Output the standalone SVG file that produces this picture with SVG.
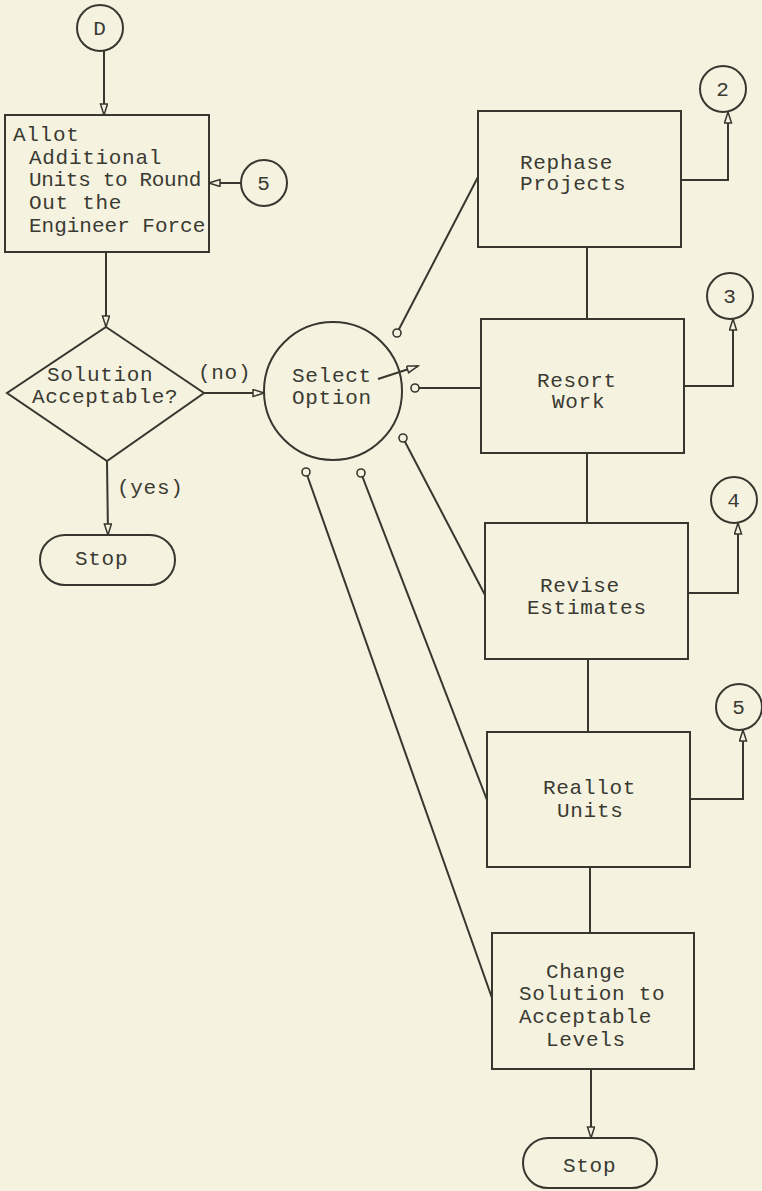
<svg xmlns="http://www.w3.org/2000/svg" width="762" height="1191" viewBox="0 0 762 1191">
<defs>
<style>
.bg{fill:#f5f3df}
.s{fill:none;stroke:#38372f;stroke-width:2}
.n{fill:#f5f3df;stroke:#38372f;stroke-width:2}
.d{fill:#f5f3df;stroke:#38372f;stroke-width:1.6}
.t{font-family:"Liberation Mono","DejaVu Sans Mono",monospace;font-size:21px;letter-spacing:0.7px;fill:#3a3a33}
.c{text-anchor:middle}
</style>
<marker id="ah" markerUnits="userSpaceOnUse" markerWidth="14" markerHeight="10" refX="12" refY="4" orient="auto">
<path d="M1,0.5 L12,4 L1,7.5 Z" fill="#f5f3df" stroke="#38372f" stroke-width="1.5"/>
</marker>
</defs>
<rect class="bg" x="0" y="0" width="762" height="1191"/>

<g id="connectors">
<line class="s" x1="104" y1="51" x2="104" y2="115" marker-end="url(#ah)"/>
<line class="s" x1="241" y1="183" x2="209" y2="183" marker-end="url(#ah)"/>
<line class="s" x1="106" y1="252" x2="106" y2="327" marker-end="url(#ah)"/>
<line class="s" x1="204" y1="393" x2="264" y2="393" marker-end="url(#ah)"/>
<line class="s" x1="107" y1="461" x2="108" y2="535" marker-end="url(#ah)"/>
<line class="s" x1="397" y1="333" x2="478" y2="177"/>
<line class="s" x1="415" y1="388" x2="481" y2="388"/>
<line class="s" x1="403" y1="438" x2="485" y2="595"/>
<line class="s" x1="361" y1="473" x2="487" y2="800"/>
<line class="s" x1="306" y1="472" x2="492" y2="998"/>
<line class="s" x1="587" y1="247" x2="587" y2="319"/>
<line class="s" x1="587" y1="453" x2="587" y2="523"/>
<line class="s" x1="588" y1="659" x2="588" y2="732"/>
<line class="s" x1="590" y1="867" x2="590" y2="933"/>
<line class="s" x1="591" y1="1069" x2="591" y2="1138" marker-end="url(#ah)"/>
<polyline class="s" points="681,180 728,180 728,112" marker-end="url(#ah)"/>
<polyline class="s" points="684,386 733,386 733,319" marker-end="url(#ah)"/>
<polyline class="s" points="688,593 738,593 738,523" marker-end="url(#ah)"/>
<polyline class="s" points="690,799 743,799 743,730" marker-end="url(#ah)"/>
<circle class="d" cx="397" cy="333" r="4"/>
<circle class="d" cx="415" cy="388" r="4"/>
<circle class="d" cx="403" cy="438" r="4"/>
<circle class="d" cx="361" cy="473" r="4"/>
<circle class="d" cx="306" cy="472" r="4"/>
</g>

<g id="conn-D">
<circle class="n" cx="100" cy="28" r="23"/>
<text class="t c" x="100" y="35">D</text>
</g>
<g id="allot">
<rect class="n" x="5" y="115" width="204" height="137"/>
<text class="t" x="13" y="141">Allot</text>
<text class="t" x="29" y="164">Additional</text>
<text class="t" x="29" y="186" textLength="173" lengthAdjust="spacing">Units to Round</text>
<text class="t" x="29" y="209">Out the</text>
<text class="t" x="29" y="232" textLength="177" lengthAdjust="spacing">Engineer Force</text>
</g>
<g id="conn-5a">
<circle class="n" cx="264" cy="183" r="23"/>
<text class="t c" x="264" y="190">5</text>
</g>
<g id="decision">
<polygon class="n" points="106,327 204,393 107,461 7,393"/>
<text class="t" x="47" y="381">Solution</text>
<text class="t" x="32" y="403">Acceptable?</text>
</g>
<g id="labels">
<text class="t" x="198" y="379">(no)</text>
<text class="t" x="117" y="494">(yes)</text>
</g>
<g id="stop1">
<rect class="n" x="40" y="535" width="135" height="50" rx="25"/>
<text class="t" x="75" y="565">Stop</text>
</g>
<g id="select">
<circle class="n" cx="333" cy="391" r="69"/>
<text class="t" x="292" y="382">Select</text>
<text class="t" x="292" y="404">Option</text>
<line class="s" x1="378" y1="379" x2="418" y2="366" marker-end="url(#ah)"/>
</g>
<g id="rephase">
<rect class="n" x="478" y="111" width="203" height="136"/>
<text class="t" x="520" y="169">Rephase</text>
<text class="t" x="520" y="190">Projects</text>
</g>
<g id="resort">
<rect class="n" x="481" y="319" width="203" height="134"/>
<text class="t" x="537" y="387">Resort</text>
<text class="t" x="552" y="408">Work</text>
</g>
<g id="revise">
<rect class="n" x="485" y="523" width="203" height="136"/>
<text class="t" x="540" y="592">Revise</text>
<text class="t" x="527" y="614">Estimates</text>
</g>
<g id="reallot">
<rect class="n" x="487" y="732" width="203" height="135"/>
<text class="t" x="543" y="794">Reallot</text>
<text class="t" x="557" y="817">Units</text>
</g>
<g id="change">
<rect class="n" x="492" y="933" width="202" height="136"/>
<text class="t" x="546" y="978">Change</text>
<text class="t" x="519" y="1000">Solution to</text>
<text class="t" x="519" y="1023">Acceptable</text>
<text class="t" x="546" y="1046">Levels</text>
</g>
<g id="stop2">
<rect class="n" x="523" y="1138" width="134" height="50" rx="25"/>
<text class="t" x="563" y="1172">Stop</text>
</g>
<g id="conn-2">
<circle class="n" cx="723" cy="89" r="23"/>
<text class="t c" x="723" y="96">2</text>
</g>
<g id="conn-3">
<circle class="n" cx="730" cy="296" r="23"/>
<text class="t c" x="730" y="303">3</text>
</g>
<g id="conn-4">
<circle class="n" cx="734" cy="500" r="23"/>
<text class="t c" x="734" y="507">4</text>
</g>
<g id="conn-5b">
<circle class="n" cx="739" cy="707" r="23"/>
<text class="t c" x="739" y="714">5</text>
</g>
</svg>
